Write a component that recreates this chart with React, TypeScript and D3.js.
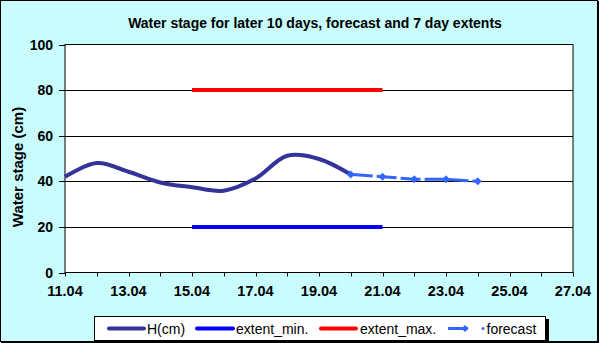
import React from 'react'
import * as d3 from 'd3'

const days = [11, 12, 13, 14, 15, 16, 17, 18, 19, 20]
const hValues = [42, 48, 44.2, 39.5, 37.4, 35.9, 41.2, 51.2, 49.8, 43]
const forecastDays = [20, 21, 22, 23, 24]
const forecastValues = [43, 42, 40.9, 40.9, 40]
const extentDays = [15, 21]
const extentMin = [20, 20]
const extentMax = [80, 80]
const yTicks = [0, 20, 40, 60, 80, 100]
const xTickLabels = [11, 13, 15, 17, 19, 21, 23, 25, 27]

const W = 600
const H = 343
const font = 'Arial, "Liberation Sans", sans-serif'

export default function App() {
  const x = d3.scaleLinear().domain([11, 27]).range([65, 573])
  const y = d3.scaleLinear().domain([0, 100]).range([272.5, 44.5])

  const hLine = d3
    .line<number>()
    .x((d, i) => x(days[i]))
    .y((d) => y(d))
    .curve(d3.curveCatmullRom.alpha(0.5))

  const fLine = d3
    .line<number>()
    .x((d, i) => x(forecastDays[i]))
    .y((d) => y(d))

  const extLine = d3
    .line<number>()
    .x((d, i) => x(extentDays[i]))
    .y((d) => y(d))

  const minorTicks = d3.range(11, 28)
  const fmt = (d: number) => `${d}.04`

  const diamond = (cx: number, cy: number, r: number) =>
    `M${cx},${cy - r}L${cx + r},${cy}L${cx},${cy + r}L${cx - r},${cy}Z`

  return (
    <svg
      width={W}
      height={H}
      style={{ position: 'absolute', left: 0, top: 0 }}
      fontFamily={font}
    >
      <defs>
        <pattern id="dither" width="2" height="2" patternUnits="userSpaceOnUse">
          <rect width="2" height="2" fill="#ccffff" />
          <rect width="1" height="1" fill="#bff5f5" />
        </pattern>
      </defs>
      <rect x={0.5} y={0.5} width={597} height={341} fill="url(#dither)" stroke="#000" />
      <line x1={598.5} y1={1} x2={598.5} y2={343} stroke="#000" />
      <line x1={1} y1={342.5} x2={599} y2={342.5} stroke="#000" />

      <text x={315} y={28} textAnchor="middle" fontSize={14} fontWeight="bold">
        Water stage for later 10 days, forecast and 7 day extents
      </text>

      {/* plot area */}
      <rect x={x(11)} y={y(100)} width={x(27) - x(11)} height={y(0) - y(100)} fill="#fff" stroke="#000" />

      {yTicks.map((t) => (
        <g key={t}>
          {t > 0 && t < 100 && (
            <line x1={x(11)} x2={x(27)} y1={Math.round(y(t)) + 0.5} y2={Math.round(y(t)) + 0.5} stroke="#000" />
          )}
          <line x1={x(11) - 6} x2={x(11)} y1={Math.round(y(t)) + 0.5} y2={Math.round(y(t)) + 0.5} stroke="#000" />
          <text x={x(11) - 12} y={y(t) + 5} textAnchor="end" fontSize={14} fontWeight="bold">
            {t}
          </text>
        </g>
      ))}

      {minorTicks.map((d) => (
        <line key={d} x1={Math.round(x(d)) + 0.5} x2={Math.round(x(d)) + 0.5} y1={y(0)} y2={y(0) + 4} stroke="#000" />
      ))}
      {xTickLabels.map((d) => (
        <text key={d} x={x(d)} y={296} textAnchor="middle" fontSize={14.5} fontWeight="bold">
          {fmt(d)}
        </text>
      ))}

      <text
        transform={`translate(23,167) rotate(-90)`}
        textAnchor="middle"
        fontSize={15}
        fontWeight="bold"
      >
        Water stage (cm)
      </text>

      <path d={extLine(extentMin) || ''} fill="none" stroke="#0000ff" strokeWidth={4} />
      <path d={extLine(extentMax) || ''} fill="none" stroke="#ff0000" strokeWidth={4} />
      <path d={hLine(hValues) || ''} fill="none" stroke="#333399" strokeWidth={4} />
      <path d={fLine(forecastValues) || ''} fill="none" stroke="#3366ff" strokeWidth={3} strokeDasharray="20 4" strokeDashoffset={-2} />
      {forecastValues.map((v, i) => (
        <path key={i} d={diamond(x(forecastDays[i]), y(v), 4)} fill="#3366ff" />
      ))}

      {/* legend */}
      <rect x={97} y={319} width={452} height={25} fill="#000" />
      <rect x={94.5} y={316.5} width={451} height={24} fill="#fff" stroke="#000" />
      <g fontSize={14}>
        <line x1={109} x2={144} y1={328.5} y2={328.5} stroke="#333399" strokeWidth={4} strokeLinecap="round" />
        <text x={147} y={333.5}>H(cm)</text>
        <line x1={197} x2={233} y1={328.5} y2={328.5} stroke="#0000ff" strokeWidth={4} strokeLinecap="round" />
        <text x={236} y={333.5}>extent_min.</text>
        <line x1={321} x2={356} y1={328.5} y2={328.5} stroke="#ff0000" strokeWidth={4} strokeLinecap="round" />
        <text x={360} y={333.5}>extent_max.</text>
        <line x1={448} x2={468} y1={328.5} y2={328.5} stroke="#3366ff" strokeWidth={3} />
        <path d={diamond(465, 328.5, 3.5)} fill="#3366ff" />
        <circle cx={483} cy={328.5} r={1.5} fill="#3366ff" />
        <text x={486.5} y={333.5}>forecast</text>
      </g>
    </svg>
  )
}
